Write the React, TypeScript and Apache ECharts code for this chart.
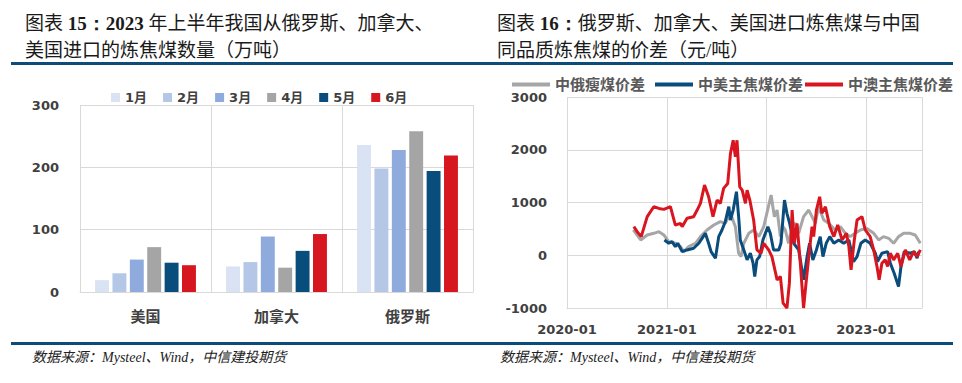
import React, { useEffect, useRef } from "react";
import * as echarts from "echarts";

// ---------- Left chart data (万吨) ----------
const countries = ["美国", "加拿大", "俄罗斯"];
const monthNames = ["1月", "2月", "3月", "4月", "5月", "6月"];
const jan = [19, 41, 236];
const feb = [30, 48, 198];
const mar = [52, 89, 228];
const apr = [72, 39, 258];
const may = [47, 66, 194];
const jun = [43, 93, 219];
const monthValues = [jan, feb, mar, apr, may, jun];
const monthColors = ["#dae3f3", "#b4c7e7", "#8faadc", "#a5a5a5", "#084d7b", "#d7171f"];

// ---------- Right chart data (元/吨) ----------
const lineNames = ["中俄瘦煤价差", "中美主焦煤价差", "中澳主焦煤价差"];
const lineColors = ["#a6a6a6", "#0a4c7c", "#d9161f"];
const yTicks = [-1000, 0, 1000, 2000, 3000];

const russiaDiff: [string, number][] = [
  ["2020-08-31", 479], ["2020-09-27", 290], ["2020-10-21", 384], ["2020-11-14", 416],
  ["2020-12-03", 447], ["2020-12-21", 384], ["2021-01-08", 258], ["2021-02-01", 227],
  ["2021-02-20", 164], ["2021-03-04", 69], ["2021-03-22", 164], ["2021-04-16", 227],
  ["2021-05-04", 353], ["2021-05-28", 479], ["2021-06-22", 573], ["2021-07-16", 636],
  ["2021-08-03", 605], ["2021-08-22", 794], ["2021-09-09", 542], ["2021-09-21", 38],
  ["2021-09-30", -25], ["2021-10-10", 227], ["2021-10-28", 416], ["2021-11-15", 479],
  ["2021-12-04", 353], ["2021-12-22", 542], ["2022-01-18", 1141], ["2022-01-30", 731],
  ["2022-02-09", 857], ["2022-02-21", 353], ["2022-03-03", 542], ["2022-03-11", 479],
  ["2022-03-23", 227], ["2022-04-05", 542], ["2022-04-17", 605], ["2022-04-29", 416],
  ["2022-05-17", 731], ["2022-06-05", 857], ["2022-06-17", 731], ["2022-06-29", 605],
  ["2022-07-11", 920], ["2022-07-30", 668], ["2022-08-17", 605], ["2022-09-10", 479],
  ["2022-09-29", 542], ["2022-10-17", 416], ["2022-11-04", 353], ["2022-11-22", 416],
  ["2022-12-11", 479], ["2023-01-04", 510], ["2023-01-29", 416], ["2023-02-16", 290],
  ["2023-03-06", 353], ["2023-03-25", 321], ["2023-04-12", 227], ["2023-04-30", 353],
  ["2023-05-19", 416], ["2023-06-12", 416], ["2023-06-30", 384], ["2023-07-19", 227],
];

const usDiff: [string, number][] = [
  ["2020-12-23", 290], ["2021-01-08", 227], ["2021-01-20", 258], ["2021-02-01", 164],
  ["2021-02-10", 227], ["2021-02-26", 69], ["2021-03-16", 101], ["2021-04-09", 132],
  ["2021-04-28", 227], ["2021-05-10", 321], ["2021-05-22", 416], ["2021-06-03", 227],
  ["2021-06-12", 69], ["2021-06-28", -57], ["2021-07-10", 353], ["2021-07-22", 479],
  ["2021-08-03", 636], ["2021-08-16", 920], ["2021-08-22", 668], ["2021-09-01", 857],
  ["2021-09-13", 1204], ["2021-09-21", 731], ["2021-09-27", 290], ["2021-10-10", 101],
  ["2021-10-22", -88], ["2021-11-03", 38], ["2021-11-13", -151], ["2021-11-19", -403],
  ["2021-11-27", -88], ["2021-12-07", -25], ["2021-12-19", 290], ["2022-01-06", 542],
  ["2022-01-15", 416], ["2022-01-27", 101], ["2022-02-15", 101], ["2022-02-23", 227],
  ["2022-03-08", 1046], ["2022-03-17", 794], ["2022-03-27", 605], ["2022-04-11", 227],
  ["2022-04-29", 101], ["2022-05-17", -466], ["2022-05-30", -25], ["2022-06-08", 227],
  ["2022-06-20", -88], ["2022-07-03", 101], ["2022-07-17", 353], ["2022-07-27", -25],
  ["2022-08-08", 227], ["2022-08-21", 353], ["2022-09-05", 227], ["2022-09-23", 290],
  ["2022-10-11", 227], ["2022-10-30", 290], ["2022-11-16", -120], ["2022-11-29", -25],
  ["2022-12-13", 227], ["2022-12-29", 290], ["2023-01-16", 227], ["2023-02-04", 38],
  ["2023-02-12", -120], ["2023-02-28", 38], ["2023-03-21", 69], ["2023-03-31", -151],
  ["2023-04-14", -340], ["2023-04-30", -592], ["2023-05-09", -214], ["2023-05-21", 69],
  ["2023-06-12", 38], ["2023-06-27", 69], ["2023-07-07", -57], ["2023-07-13", 69],
];

const australiaDiff: [string, number][] = [
  ["2020-09-02", 542], ["2020-09-14", 447], ["2020-09-29", 353], ["2020-10-21", 731],
  ["2020-11-14", 920], ["2020-12-03", 888], ["2020-12-21", 870], ["2021-01-14", 920],
  ["2021-02-01", 573], ["2021-02-20", 605], ["2021-02-26", 542], ["2021-03-16", 700],
  ["2021-04-09", 731], ["2021-04-22", 857], ["2021-05-04", 983], ["2021-05-19", 1330],
  ["2021-06-03", 1109], ["2021-06-19", 731], ["2021-07-04", 1046], ["2021-07-16", 983],
  ["2021-07-28", 1267], ["2021-08-12", 1361], ["2021-08-22", 1928], ["2021-09-01", 2180],
  ["2021-09-09", 1865], ["2021-09-15", 2180], ["2021-09-25", 1298], ["2021-10-04", 1235],
  ["2021-10-16", 983], ["2021-10-22", 1235], ["2021-11-01", 1046], ["2021-11-15", 668],
  ["2021-11-27", 101], ["2021-12-12", 38], ["2021-12-22", 227], ["2022-01-09", 101],
  ["2022-01-21", -25], ["2022-02-09", -466], ["2022-02-21", -403], ["2022-03-03", -907],
  ["2022-03-17", -1000], ["2022-03-26", -529], ["2022-04-05", 857], ["2022-04-13", 227],
  ["2022-04-23", 605], ["2022-05-05", -151], ["2022-05-17", -1000], ["2022-05-26", -529],
  ["2022-06-05", -25], ["2022-06-17", 542], ["2022-06-23", 353], ["2022-07-03", 857],
  ["2022-07-15", 1109], ["2022-07-23", 794], ["2022-08-05", 920], ["2022-08-21", 542],
  ["2022-09-05", 353], ["2022-09-19", 573], ["2022-10-05", 290], ["2022-10-21", 416],
  ["2022-10-30", 164], ["2022-11-07", -277], ["2022-11-19", 290], ["2022-11-29", 668],
  ["2022-12-17", 731], ["2022-12-29", 479], ["2023-01-16", 353], ["2023-01-29", 101],
  ["2023-02-10", -214], ["2023-02-18", -466], ["2023-02-28", -151], ["2023-03-12", -88],
  ["2023-03-21", -214], ["2023-03-31", 38], ["2023-04-12", -88], ["2023-04-27", 38],
  ["2023-05-09", -214], ["2023-05-25", 101], ["2023-06-10", -88], ["2023-06-24", 69],
  ["2023-07-07", -25], ["2023-07-19", 101],
];
const lineData = [russiaDiff, usDiff, australiaDiff];

const TEXT = "#404040";
const GRID = "#d9d9d9";
const RULE = "#0d4b78";
const LABEL_FONT = "'DejaVu Sans', 'Noto Sans CJK SC', sans-serif";
const TITLE_FONT = "'Liberation Serif', 'Noto Sans CJK SC', serif";
const YEAR_MS = 365 * 24 * 3600 * 1000;

export default function App() {
  const ref = useRef<HTMLDivElement>(null);

  useEffect(() => {
    if (!ref.current) return;
    const chart = echarts.init(ref.current, undefined, { renderer: "svg" });

    const barSeries = monthNames.map((m, i) => ({
      name: m,
      type: "bar",
      xAxisIndex: 0,
      yAxisIndex: 0,
      data: monthValues[i],
      barGap: "25%",
      barCategoryGap: "23%",
      itemStyle: { color: monthColors[i] },
    }));

    const lineSeries = lineNames.map((n, i) => ({
      name: n,
      type: "line",
      xAxisIndex: 1,
      yAxisIndex: 1,
      data: lineData[i],
      symbol: "none",
      lineStyle: { width: 3, color: lineColors[i] },
      itemStyle: { color: lineColors[i] },
    }));

    const legendBase = {
      icon: "rect",
      itemWidth: 38,
      itemHeight: 4,
      top: 72,
      textStyle: { fontFamily: LABEL_FONT, fontWeight: "bold", fontSize: 15, color: "#595959" },
    };

    const titleStyle = (text: string, x: number, y: number) => ({
      type: "text",
      style: {
        text,
        x,
        y,
        verticalAlign: "middle",
        font: `19px ${TITLE_FONT}`,
        fill: "#1a1a1a",
        rich: {
          b: { fontFamily: "'Liberation Serif', serif", fontWeight: "bold", fontSize: 19, fill: "#1a1a1a" },
        },
      },
    });

    const sourceStyle = (x: number) => ({
      type: "text",
      style: {
        text: "数据来源：Mysteel、Wind，中信建投期货",
        x,
        y: 357,
        verticalAlign: "middle",
        font: `italic 14px ${TITLE_FONT}`,
        fill: "#222222",
      },
    });

    const plainNumber = (v: number) => String(v);

    chart.setOption({
      animation: false,
      backgroundColor: "#ffffff",
      grid: [
        { left: 80, top: 105, width: 393, height: 187 },
        { left: 567, top: 97, width: 355, height: 211 },
      ],
      legend: [
        {
          data: monthNames,
          left: 106,
          top: 86,
          icon: "rect",
          itemWidth: 9,
          itemHeight: 9,
          itemGap: 16,
          textStyle: { fontFamily: LABEL_FONT, fontWeight: "bold", fontSize: 13, color: TEXT },
        },
        { ...legendBase, data: [lineNames[0]], left: 507 },
        { ...legendBase, data: [lineNames[1]], left: 650 },
        { ...legendBase, data: [lineNames[2]], left: 800 },
      ],
      xAxis: [
        {
          type: "category",
          gridIndex: 0,
          data: countries,
          axisTick: { show: false },
          axisLine: { lineStyle: { color: GRID } },
          splitLine: { show: true, lineStyle: { color: GRID } },
          axisLabel: { fontFamily: LABEL_FONT, fontWeight: "bold", fontSize: 15, color: TEXT, margin: 17 },
        },
        {
          type: "time",
          gridIndex: 1,
          min: "2020-01-01",
          max: "2023-07-25",
          minInterval: YEAR_MS,
          maxInterval: YEAR_MS * 1.01,
          axisTick: { show: false },
          axisLine: { onZero: false, lineStyle: { color: GRID } },
          splitLine: { show: true, lineStyle: { color: GRID } },
          axisLabel: {
            formatter: "{yyyy}-{MM}",
            fontFamily: LABEL_FONT,
            fontWeight: "bold",
            fontSize: 13,
            color: TEXT,
            margin: 15,
            showMaxLabel: false,
          },
        },
      ],
      yAxis: [
        {
          type: "value",
          gridIndex: 0,
          min: 0,
          max: 300,
          interval: 100,
          axisLine: { show: false },
          axisTick: { show: false },
          splitLine: { lineStyle: { color: GRID } },
          axisLabel: { fontFamily: LABEL_FONT, fontWeight: "bold", fontSize: 13, color: TEXT, margin: 21, formatter: plainNumber },
        },
        {
          type: "value",
          gridIndex: 1,
          min: yTicks[0],
          max: yTicks[yTicks.length - 1],
          interval: 1000,
          axisLine: { show: false },
          axisTick: { show: false },
          splitLine: { lineStyle: { color: GRID } },
          axisLabel: { fontFamily: LABEL_FONT, fontWeight: "bold", fontSize: 13, color: TEXT, margin: 20, formatter: plainNumber },
        },
      ],
      series: [...barSeries, ...lineSeries],
      graphic: [
        titleStyle("图表 {b|15：2023} 年上半年我国从俄罗斯、加拿大、", 25, 23),
        titleStyle("美国进口的炼焦煤数量（万吨）", 25, 50),
        titleStyle("图表 {b|16：}俄罗斯、加拿大、美国进口炼焦煤与中国", 497, 23),
        titleStyle("同品质炼焦煤的价差（元/吨）", 497, 50),
        { type: "rect", shape: { x: 11, y: 62, width: 942, height: 3 }, style: { fill: RULE } },
        { type: "rect", shape: { x: 11, y: 342, width: 942, height: 3 }, style: { fill: RULE } },
        sourceStyle(32),
        sourceStyle(500),
      ],
    });

    return () => chart.dispose();
  }, []);

  return (
    <div
      ref={ref}
      style={{ position: "absolute", left: 0, top: 0, width: 962, height: 383, background: "#fff" }}
    />
  );
}
